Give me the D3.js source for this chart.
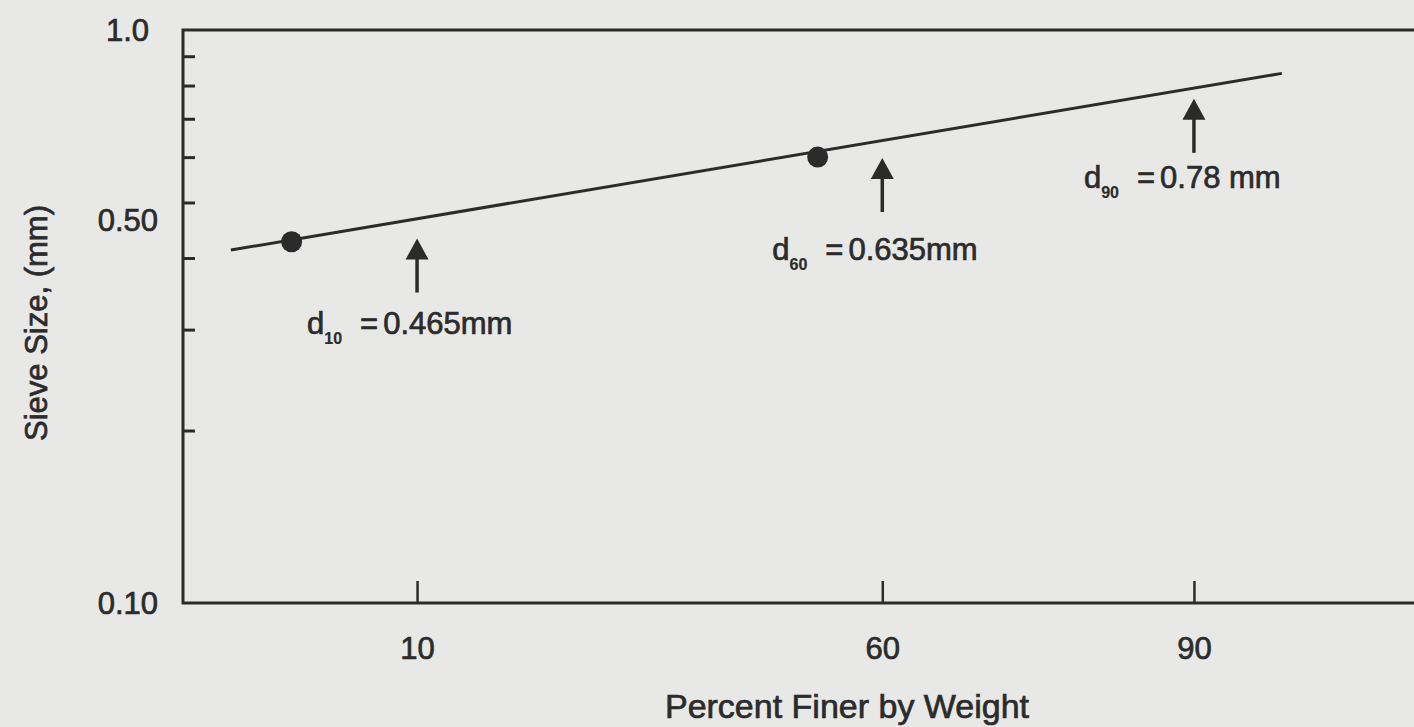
<!DOCTYPE html>
<html>
<head>
<meta charset="utf-8">
<script src="https://cdn.jsdelivr.net/npm/d3@7"></script>
<style>
  html, body { margin: 0; padding: 0; background: #e8e8e6; }
  svg { display: block; }
  text { font-family: "Liberation Sans", Arial, Helvetica, sans-serif; fill: #2b2b2b; stroke: #2b2b2b; stroke-width: 0.7px; }
</style>
</head>
<body>
<svg id="chart" width="1414" height="727"></svg>
<script>
// fitted grain size line (percent finer, sieve size mm)
const fitPercent = [2.9, 94.2]
const fitSize = [0.413, 0.84]

// measured points
const pointPercent = [4.5, 51.6]
const pointSize = [0.427, 0.60]

// characteristic sizes
const dNames = ["10", "60", "90"]
const dPercent = [10, 60, 90]
const dSize = [0.465, 0.635, 0.78]
const dText = ["0.465mm", "0.635mm", "0.78 mm"]

// axis ticks
const xTicks = [10, 60, 90]
const yLabelValues = [0.1, 0.5, 1.0]
const yLabels = ["0.10", "0.50", "1.0"]
const yMinor = [0.2, 0.3, 0.4, 0.5, 0.6, 0.7, 0.8, 0.9]

// annotation layout (gap below line to arrow tip, tip to label baseline)
const tipGap = [18, 15, 7]
const labelDrop = [95, 102, 89]

const ink = "#2b2b2b"
const svgContainer = d3.select("#chart")

// inverse normal cdf (Acklam), for the probability axis
function probit(p) {
    const a = [-39.69683028665376, 220.9460984245205, -275.9285104469687, 138.3577518672690, -30.66479806614716, 2.506628277459239]
    const b = [-54.47609879822406, 161.5858368580409, -155.6989798598866, 66.80131188771972, -13.28068155288572]
    const c = [-0.007784894002430293, -0.3223964580411365, -2.400758277161838, -2.549732539343734, 4.374664141464968, 2.938163982698783]
    const d = [0.007784695709041462, 0.3224671290700398, 2.445134137142996, 3.754408661907416]
    const pl = 0.02425
    let q, r
    if (p < pl) {
        q = Math.sqrt(-2 * Math.log(p))
        return (((((c[0] * q + c[1]) * q + c[2]) * q + c[3]) * q + c[4]) * q + c[5]) / ((((d[0] * q + d[1]) * q + d[2]) * q + d[3]) * q + 1)
    }
    if (p > 1 - pl) {
        q = Math.sqrt(-2 * Math.log(1 - p))
        return -(((((c[0] * q + c[1]) * q + c[2]) * q + c[3]) * q + c[4]) * q + c[5]) / ((((d[0] * q + d[1]) * q + d[2]) * q + d[3]) * q + 1)
    }
    q = p - 0.5
    r = q * q
    return (((((a[0] * r + a[1]) * r + a[2]) * r + a[3]) * r + a[4]) * r + a[5]) * q / (((((b[0] * r + b[1]) * r + b[2]) * r + b[3]) * r + b[4]) * r + 1)
}

const plotLeft = 183, plotTop = 30, plotBottom = 603, plotRight = 1428

const xp = d3.scaleLinear().domain([probit(0.02), probit(0.98)]).range([plotLeft, plotRight])
const x = pct => xp(probit(pct / 100))
const y = d3.scaleLog().domain([0.1, 1.0]).range([plotBottom, plotTop])

// minor ticks on the left
svgContainer.append("g")
    .attr("transform", `translate(${plotLeft},0)`)
    .call(d3.axisLeft(y).tickValues(yMinor).tickSize(-12).tickFormat(""))
    .call(g => g.select(".domain").remove())
    .call(g => g.selectAll("line").attr("stroke", ink).attr("stroke-width", 3))

// y labels (the 0.50 label sits a little under its tick in the original)
svgContainer.append("g")
    .selectAll("text")
    .data(yLabelValues)
    .enter()
    .append("text")
    .attr("x", d => plotLeft - 25 - (d == 1 ? 9 : 0))
    .attr("y", d => y(d) + (d == 0.5 ? 18 : 0))
    .attr("dy", "0.35em")
    .attr("text-anchor", "end")
    .style("font-size", "31px")
    .text((d, i) => yLabels[i])

// x ticks inside the plot
svgContainer.append("g")
    .attr("transform", `translate(0,${plotBottom})`)
    .call(d3.axisBottom(xp).tickValues(xTicks.map(t => probit(t / 100))).tickSize(-22).tickPadding(34)
        .tickFormat((d, i) => xTicks[i]))
    .call(g => g.select(".domain").remove())
    .call(g => g.selectAll("line").attr("stroke", ink).attr("stroke-width", 2.5))
    .call(g => g.selectAll("text")
        .style("font-size", "31px")
        .style("font-family", "'Liberation Sans', Arial, sans-serif")
        .attr("fill", ink))

// frame
svgContainer.append("rect")
    .attr("x", plotLeft)
    .attr("y", plotTop)
    .attr("width", plotRight - plotLeft)
    .attr("height", plotBottom - plotTop)
    .attr("fill", "none")
    .attr("stroke", ink)
    .attr("stroke-width", 3)

// axis titles
svgContainer.append("text")
    .attr("x", 847)
    .attr("y", 718)
    .attr("text-anchor", "middle")
    .style("font-size", "34px")
    .text("Percent Finer by Weight")

svgContainer.append("text")
    .attr("transform", "translate(47,323) rotate(-90)")
    .attr("text-anchor", "middle")
    .style("font-size", "31px")
    .text("Sieve Size, (mm)")

// fitted line
const line = d3.line()
    .x(d => x(d[0]))
    .y(d => y(d[1]))

svgContainer.append("path")
    .datum(fitPercent.map((p, i) => [p, fitSize[i]]))
    .attr("d", line)
    .attr("fill", "none")
    .attr("stroke", ink)
    .attr("stroke-width", 3)

// data points
svgContainer.selectAll("circle.pt")
    .data(pointPercent.map((p, i) => ({ p: p, s: pointSize[i] })))
    .enter()
    .append("circle")
    .attr("class", "pt")
    .attr("cx", d => x(d.p))
    .attr("cy", d => y(d.s))
    .attr("r", 10.5)
    .style("fill", ink)

// arrows and d labels
const ann = svgContainer.selectAll("g.ann")
    .data(dPercent.map((p, i) => ({ p: p, s: dSize[i], name: dNames[i], txt: dText[i], i: i })))
    .enter()
    .append("g")
    .attr("class", "ann")
    .attr("transform", d => `translate(${x(d.p)},${y(d.s) + tipGap[d.i]})`)

ann.append("path")
    .attr("d", "M0,0 L11.5,21 L-11.5,21 Z")
    .attr("fill", ink)

ann.append("line")
    .attr("x1", 0).attr("x2", 0)
    .attr("y1", 18).attr("y2", 54)
    .attr("stroke", ink)
    .attr("stroke-width", 3.5)

const lbl = ann.append("text")
    .attr("x", -110)
    .attr("y", d => labelDrop[d.i])
    .style("font-size", "31px")

lbl.append("tspan").text("d")
lbl.append("tspan")
    .attr("dy", 10)
    .style("font-size", "16px")
    .style("font-weight", "bold")
    .style("stroke-width", "0.2px")
    .text(d => d.name)
lbl.append("tspan")
    .attr("dy", -10)
    .attr("dx", 18)
    .text("=")
lbl.append("tspan")
    .attr("dx", 5)
    .text(d => d.txt)
</script>
</body>
</html>
